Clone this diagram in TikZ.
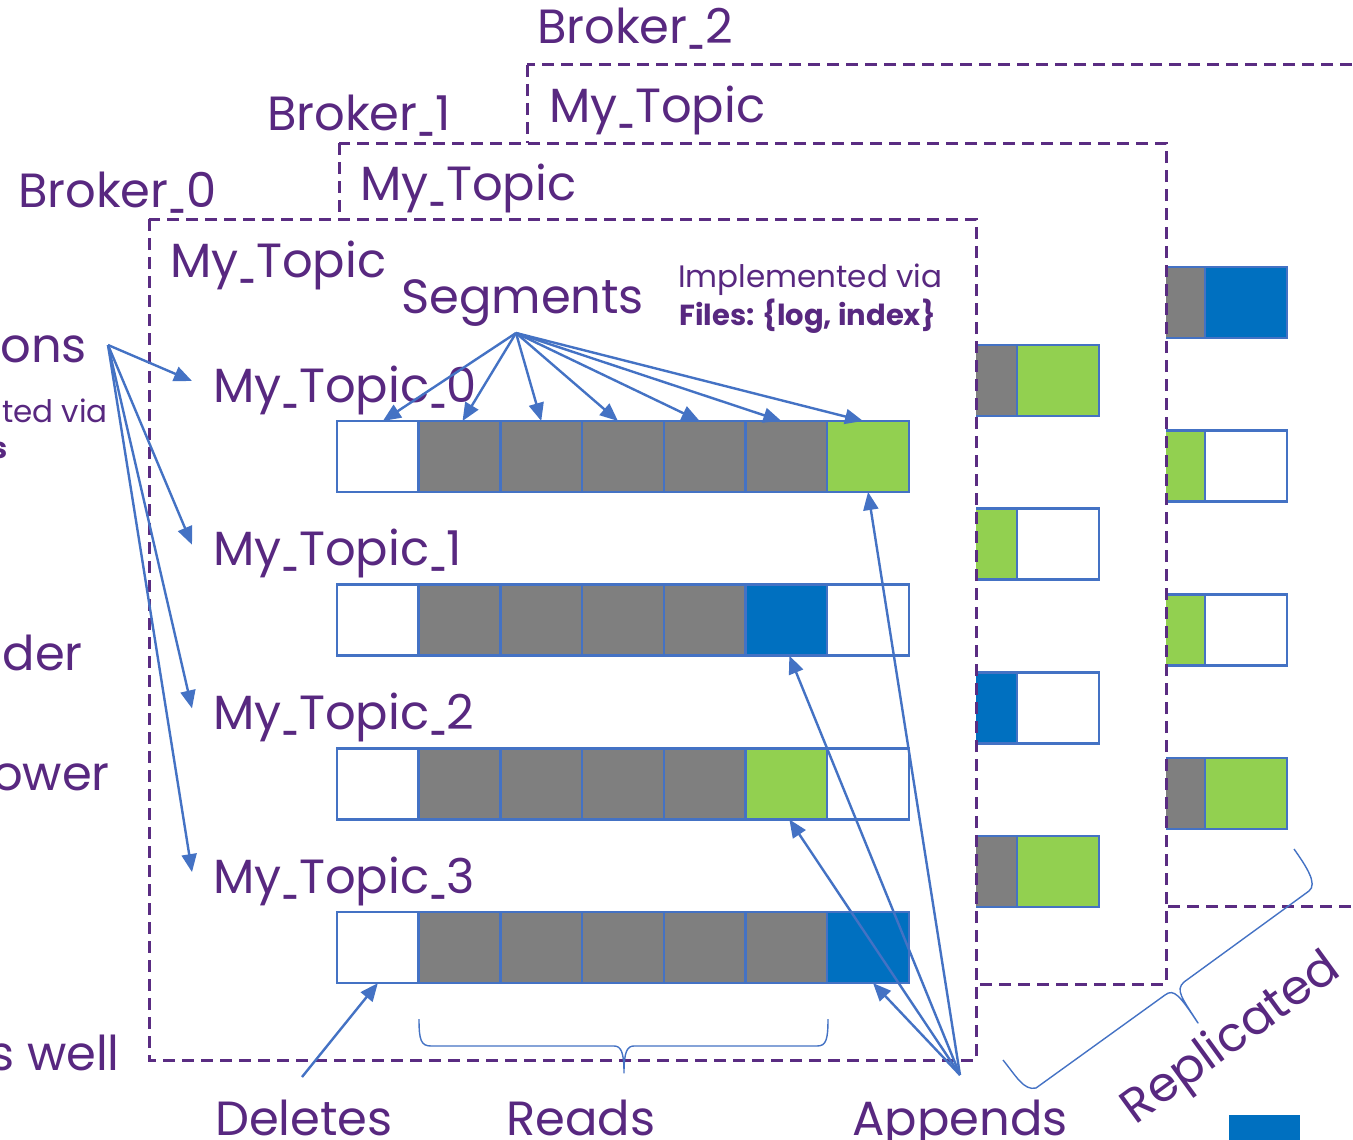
\documentclass[tikz,border=0pt]{standalone}
\usepackage{fontspec}
\setmainfont{Poppins}
\usetikzlibrary{arrows.meta,calc}

\definecolor{txtpurple}{RGB}{88,40,128}
\definecolor{framepurple}{RGB}{90,44,130}
\definecolor{lineblue}{RGB}{68,114,196}
\definecolor{cG}{RGB}{127,127,127}
\definecolor{cN}{RGB}{146,208,80}
\definecolor{cB}{RGB}{0,112,192}
\definecolor{cW}{RGB}{255,255,255}

% a narrower underscore for the topic and broker names
\newcommand\usc{\scalebox{0.5}[1]{\_}}

\tikzset{
  frame/.style={draw=framepurple, line width=3pt, dash pattern=on 12pt off 7pt, fill=white},
  cell/.style={draw=lineblue, line width=2.5pt, minimum width=81.7pt, minimum height=71pt,
               inner sep=0pt, outer sep=0pt},
  txtbig/.style={text=txtpurple, font=\fontsize{48}{56}\selectfont, inner sep=0pt},
  txtsmall/.style={text=txtpurple, font=\fontsize{31}{37}\selectfont, inner sep=0pt},
  txtbold/.style={text=txtpurple, font=\fontsize{29}{34}\selectfont\bfseries, inner sep=0pt},
  arr/.style={draw=lineblue, line width=2.4pt, -{Triangle[length=18pt,width=15pt]}},
  bracestyle/.style={draw=lineblue, line width=1.4pt, line join=round},
}

\begin{document}
\begin{tikzpicture}[x=1pt,y=-1pt]
\useasboundingbox (0,0) rectangle (1353,1140);
\clip (0,0) rectangle (1353,1140);

% ---------- Broker_2 (rearmost) ----------
\node[txtbig, anchor=base west] (b2lbl) at (537,44) {Broker\usc 2};
\draw[frame] (527,65) rectangle (1362,906);
\node[txtbig, anchor=base west] (b2topic) at (549,122) {My\usc Topic};
\foreach \r/\a/\b in {0/cG/cB,1/cN/cW,2/cN/cW,3/cG/cN} {
  \node[cell, fill=\a] (p2r\r-c5) at ({715+81.7*5+40.85},{267+163.7*\r+35.5}) {};
  \node[cell, fill=\b] (p2r\r-c6) at ({715+81.7*6+40.85},{267+163.7*\r+35.5}) {};
}

% ---------- Broker_1 ----------
\node[txtbig, anchor=base west] (b1lbl) at (267,130) {Broker\usc 1};
\draw[frame] (339,143) rectangle (1166,984);
\node[txtbig, anchor=base west] (b1topic) at (360,200) {My\usc Topic};
\foreach \r/\a/\b in {0/cG/cN,1/cN/cW,2/cB/cW,3/cG/cN} {
  \node[cell, fill=\a] (p1r\r-c5) at ({527+81.7*5+40.85},{345+163.7*\r+35.5}) {};
  \node[cell, fill=\b] (p1r\r-c6) at ({527+81.7*6+40.85},{345+163.7*\r+35.5}) {};
}

% ---------- Broker_0 (front) ----------
\node[txtbig, anchor=base west] (b0lbl) at (18,207) {Broker\usc 0};
\draw[frame] (149,219) rectangle (976,1060);
\node[txtbig, anchor=base west] (b0topic) at (170,277) {My\usc Topic};
\node[txtbig, anchor=base west] (segs) at (401,313) {Segments};
\node[txtsmall, anchor=base west] (impl) at (678,287) {Implemented via};
\node[txtbold, anchor=base west] (files) at (679,325) {Files: \{log, index\}};

\foreach \r/\cols in {0/{cW,cG,cG,cG,cG,cG,cN},
                      1/{cW,cG,cG,cG,cG,cB,cW},
                      2/{cW,cG,cG,cG,cG,cN,cW},
                      3/{cW,cG,cG,cG,cG,cG,cB}} {
  \foreach \c [count=\i from 0] in \cols {
    \node[cell, fill=\c] (p0r\r-c\i) at ({337+81.7*\i+40.85},{421+163.7*\r+35.5}) {};
  }
  \node[txtbig, anchor=base west] (t\r) at (213,{402+163.7*\r}) {My\usc Topic\usc\r};
}

% ---------- text at the left margin ----------
\node[txtbig, anchor=base east] (parts) at (87,362) {ions};
\node[txtsmall, anchor=base east] (partsimpl) at (108,422) {ted via};
\node[txtbold, anchor=base east] (partsfiles) at (8,458) {s};
\node[txtbig, anchor=base east] (leader) at (83,670) {der};
\node[txtbig, anchor=base east] (follower) at (110,790) {ower};
\node[txtbig, anchor=base east] (aswell) at (120,1070) {s well};

% ---------- bottom labels ----------
\node[txtbig, anchor=base west] (deletes) at (215,1135) {Deletes};
\node[txtbig, anchor=base] (reads) at (581,1135) {Reads};
\node[txtbig, anchor=base] (appends) at (960,1135) {Appends};
\node[txtbig, rotate=36] (repl) at (1232,1040) {Replicated};
\node[fill=cB, minimum width=71pt, minimum height=30pt, inner sep=0pt, anchor=north west]
  (legendbox) at (1229,1115) {};

% ---------- braces ----------
% under the read segments
\draw[bracestyle] (419,1019) .. controls (419,1040) and (421,1046) .. (431,1046)
  -- (614,1046) .. controls (621,1046) and (624,1052) .. (624,1073)
  .. controls (624,1052) and (627,1046) .. (634,1046)
  -- (817,1046) .. controls (826,1046) and (828,1040) .. (828,1019);
% across the replicas
\draw[bracestyle] (1003,1060) .. controls (1016,1076) and (1024,1091) .. (1036,1088)
  -- (1165,995) .. controls (1174,988) and (1180,996) .. (1198,1023)
  .. controls (1182,998) and (1175,990) .. (1184,982)
  -- (1309,891) .. controls (1318,884) and (1306,866) .. (1294,849);

% ---------- connectors ----------
\coordinate (partfan) at (108,345);
\foreach \r in {0,...,3}
  \draw[arr] (partfan) -- ($(t\r.base west)+(-21,-21)$);

\coordinate (segfan) at (516,333);
\foreach \i/\dx in {0/5,1/3,2/0,3/-5,4/-5,5/-5,6/-5}
  \draw[arr] (segfan) -- ([xshift=\dx pt]p0r0-c\i.north);

\coordinate (appfan) at (960,1075);
\draw[arr] (appfan) -- (p0r0-c6.south);
\draw[arr] (appfan) -- ([xshift=3pt]p0r1-c5.south);
\draw[arr] (appfan) -- ([xshift=3pt]p0r2-c5.south);
\draw[arr] (appfan) -- ([xshift=5pt]p0r3-c6.south);

\coordinate (delfan) at (302,1077);
\draw[arr] (delfan) -- (p0r3-c0.south);
\end{tikzpicture}
\end{document}
